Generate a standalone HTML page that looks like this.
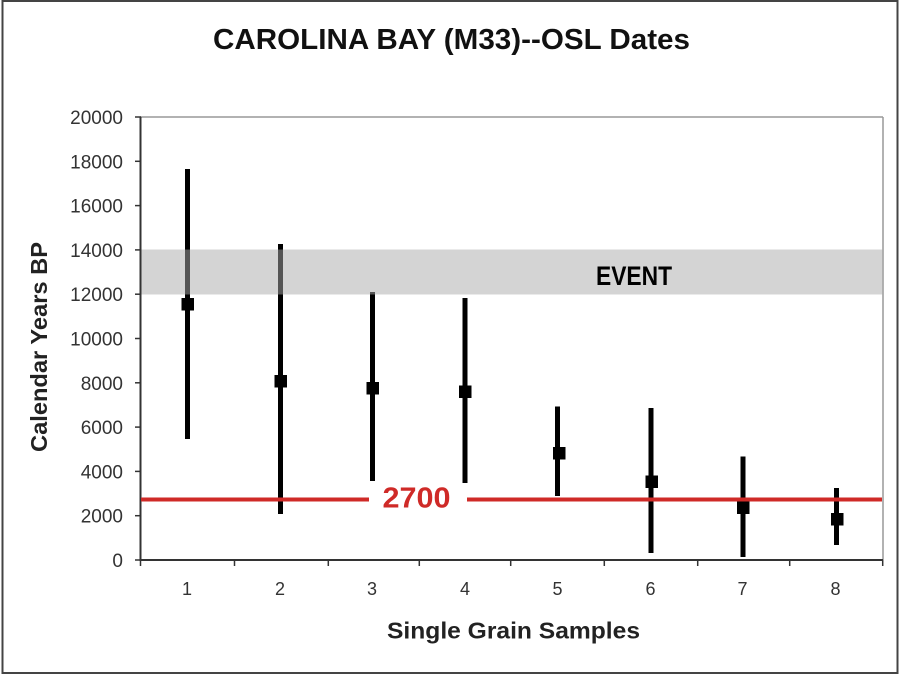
<!DOCTYPE html>
<html>
<head>
<meta charset="utf-8">
<style>
  html, body { margin:0; padding:0; background:#fff; }
  svg { display:block; }
  text { font-family: "Liberation Sans", Arial, sans-serif; }
</style>
</head>
<body>
<svg width="900" height="677" viewBox="0 0 900 677" xmlns="http://www.w3.org/2000/svg">
  <rect x="0" y="0" width="900" height="677" fill="#fff"/>
  <!-- outer border -->
  <rect x="2.5" y="1" width="895" height="672" fill="none" stroke="#444" stroke-width="2"/>

  <!-- title -->
  <text x="213" y="49" font-size="29" font-weight="bold" fill="#111" textLength="477" lengthAdjust="spacingAndGlyphs">CAROLINA BAY (M33)--OSL Dates</text>

  <!-- plot frame top/right -->
  <line x1="140" y1="117" x2="883" y2="117" stroke="#999" stroke-width="1.5"/>
  <line x1="883" y1="117" x2="883" y2="560" stroke="#999" stroke-width="1.5"/>

  <!-- error bars -->
  <g stroke="#000" stroke-width="5">
    <line x1="187.5" y1="169" x2="187.5" y2="439"/>
    <line x1="280.5" y1="244" x2="280.5" y2="514"/>
    <line x1="372.5" y1="292" x2="372.5" y2="481"/>
    <line x1="465" y1="298" x2="465" y2="483"/>
    <line x1="557.5" y1="406.5" x2="557.5" y2="496"/>
    <line x1="651" y1="408" x2="651" y2="553"/>
    <line x1="743" y1="456.5" x2="743" y2="557"/>
    <line x1="836.5" y1="488" x2="836.5" y2="545"/>
  </g>
  <!-- markers -->
  <g fill="#000">
    <rect x="181.5" y="298" width="12.5" height="12.5"/>
    <rect x="274.5" y="375" width="12.5" height="12.5"/>
    <rect x="366.5" y="382" width="12.5" height="12.5"/>
    <rect x="459" y="385.5" width="12.5" height="12.5"/>
    <rect x="553" y="447" width="12.5" height="12.5"/>
    <rect x="645.5" y="475.5" width="12.5" height="12.5"/>
    <rect x="737" y="501.5" width="12.5" height="12.5"/>
    <rect x="831" y="513" width="12.5" height="12.5"/>
  </g>

  <!-- event band -->
  <rect x="141" y="249.5" width="742" height="45" fill="#aaa" fill-opacity="0.5"/>
  <text x="596" y="285" font-size="27" font-weight="bold" fill="#000" textLength="76" lengthAdjust="spacingAndGlyphs">EVENT</text>

  <!-- axes -->
  <line x1="140.5" y1="117" x2="140.5" y2="561" stroke="#333" stroke-width="2"/>
  <line x1="140" y1="560" x2="883" y2="560" stroke="#333" stroke-width="2"/>
  <!-- y ticks -->
  <g stroke="#333" stroke-width="1.5">
    <line x1="135" y1="117" x2="141" y2="117"/>
    <line x1="135" y1="161.3" x2="141" y2="161.3"/>
    <line x1="135" y1="205.6" x2="141" y2="205.6"/>
    <line x1="135" y1="249.9" x2="141" y2="249.9"/>
    <line x1="135" y1="294.2" x2="141" y2="294.2"/>
    <line x1="135" y1="338.5" x2="141" y2="338.5"/>
    <line x1="135" y1="382.8" x2="141" y2="382.8"/>
    <line x1="135" y1="427.1" x2="141" y2="427.1"/>
    <line x1="135" y1="471.4" x2="141" y2="471.4"/>
    <line x1="135" y1="515.7" x2="141" y2="515.7"/>
    <line x1="135" y1="560" x2="141" y2="560"/>
  </g>
  <!-- x ticks -->
  <g stroke="#333" stroke-width="1.5">
    <line x1="140.5" y1="560" x2="140.5" y2="566"/>
    <line x1="234.5" y1="560" x2="234.5" y2="566"/>
    <line x1="328.3" y1="560" x2="328.3" y2="566"/>
    <line x1="419.3" y1="560" x2="419.3" y2="566"/>
    <line x1="510.7" y1="560" x2="510.7" y2="566"/>
    <line x1="604.3" y1="560" x2="604.3" y2="566"/>
    <line x1="697.7" y1="560" x2="697.7" y2="566"/>
    <line x1="789.7" y1="560" x2="789.7" y2="566"/>
    <line x1="882.7" y1="560" x2="882.7" y2="566"/>
  </g>

  <!-- y tick labels -->
  <g font-size="19" fill="#333" text-anchor="end">
    <text x="123" y="124">20000</text>
    <text x="123" y="168.3">18000</text>
    <text x="123" y="212.6">16000</text>
    <text x="123" y="256.9">14000</text>
    <text x="123" y="301.2">12000</text>
    <text x="123" y="345.5">10000</text>
    <text x="123" y="389.8">8000</text>
    <text x="123" y="434.1">6000</text>
    <text x="123" y="478.4">4000</text>
    <text x="123" y="522.7">2000</text>
    <text x="123" y="567">0</text>
  </g>
  <!-- x tick labels -->
  <g font-size="18" fill="#333" text-anchor="middle">
    <text x="187" y="595">1</text>
    <text x="280" y="595">2</text>
    <text x="372" y="595">3</text>
    <text x="465" y="595">4</text>
    <text x="557.5" y="595">5</text>
    <text x="650.5" y="595">6</text>
    <text x="742.5" y="595">7</text>
    <text x="835.5" y="595">8</text>
  </g>

  <!-- axis titles -->
  <text x="387" y="638.5" font-size="23" font-weight="bold" fill="#222" textLength="253" lengthAdjust="spacingAndGlyphs">Single Grain Samples</text>
  <text transform="translate(47,452) rotate(-90)" x="0" y="0" font-size="23" font-weight="bold" fill="#222" textLength="210" lengthAdjust="spacingAndGlyphs">Calendar Years BP</text>

  <!-- red 2700 line -->
  <g stroke="#cf2a27" stroke-width="4">
    <line x1="141" y1="499.5" x2="369" y2="499.5"/>
    <line x1="467" y1="499.5" x2="882" y2="499.5"/>
  </g>
  <text x="382.5" y="507.5" font-size="29" font-weight="bold" fill="#cf2a27" textLength="68" lengthAdjust="spacingAndGlyphs">2700</text>
</svg>
</body>
</html>
